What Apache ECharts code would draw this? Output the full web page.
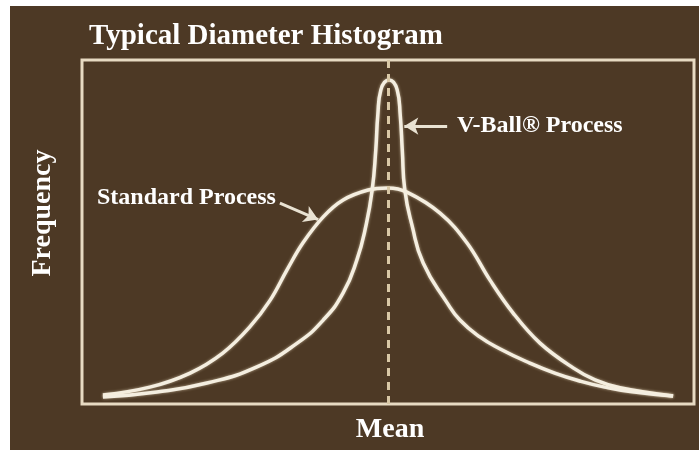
<!DOCTYPE html>
<html>
<head>
<meta charset="utf-8">
<script src="https://cdn.jsdelivr.net/npm/echarts@6/dist/echarts.min.js"></script>
<style>
html,body{margin:0;padding:0;background:#ffffff;}
#chart{width:699px;height:450px;}
</style>
</head>
<body>
<div id="chart"></div>
<script>
// x: offset from the mean (arbitrary units), y: relative frequency (0-100)
const standardX = [-5.59,-4.67,-3.88,-3.24,-2.71,-2.31,-1.98,-1.67,-1.27,-0.88,-0.39,0,0.37,1.02,1.55,2.00,2.45,2.98,3.63,4.06,4.55,5.59];
const standardY = [2.6,4.9,9.0,14.8,22.4,30.2,39.0,46.8,54.4,59.3,62.2,62.8,61.6,55.5,46.8,36.0,26.5,17.7,10.5,7.0,4.7,2.3];
const vballX = [-5.59,-4.53,-3.55,-2.57,-1.78,-1.27,-0.88,-0.61,-0.43,-0.31,-0.24,-0.20,-0.14,0.02,0.18,0.24,0.28,0.33,0.47,0.69,1.16,1.41,1.80,2.20,2.78,3.27,3.76,4.25,4.75,5.59];
const vballY = [2.0,3.5,6.1,10.8,17.7,24.4,32.3,41.9,52.0,62.2,73.8,84.0,91.3,94.2,91.3,84.0,73.8,62.2,52.0,41.0,29.4,24.4,19.5,16.0,11.9,9.0,6.7,4.9,3.6,2.3];
const meanValue = 0;
const labels = {
  title: 'Typical Diameter Histogram',
  xName: 'Mean',
  yName: 'Frequency',
  vball: 'V-Ball® Process',
  standard: 'Standard Process'
};
// annotation arrows [fromX, fromY, toX, toY] in data units
const vballArrow = [1.16, 80.8, 0.32, 80.8];
const standardArrow = [-2.12, 58.4, -1.37, 53.6];

const cream = '#f4eee0';
const boxColor = '#e7dac2';
const font = '"Liberation Serif", "Times New Roman", serif';

const chart = echarts.init(document.getElementById('chart'));
chart.setOption({
  backgroundColor: 'transparent',
  animation: false,
  graphic: [
    {type:'rect', z:-10, silent:true, shape:{x:10,y:6,width:689,height:444}, style:{fill:'#4d3925'}},
    {type:'text', x:89, y:37, style:{text:labels.title, font:'bold 29px ' + font, fill:'#ffffff', textVerticalAlign:'middle'}},
    {type:'text', x:457, y:126, style:{text:labels.vball, font:'bold 24px ' + font, fill:'#ffffff', textVerticalAlign:'middle'}},
    {type:'text', x:97, y:198, style:{text:labels.standard, font:'bold 24px ' + font, fill:'#ffffff', textVerticalAlign:'middle'}},
    {type:'text', x:390, y:430, style:{text:labels.xName, font:'bold 28px ' + font, fill:'#ffffff', textAlign:'center', textVerticalAlign:'middle'}},
    {type:'text', x:43, y:213, rotation:Math.PI/2, style:{text:labels.yName, font:'bold 28px ' + font, fill:'#ffffff', textAlign:'center', textVerticalAlign:'middle'}}
  ],
  grid: {left:82, right:5, top:60, bottom:46, show:true, borderColor:boxColor, borderWidth:3, backgroundColor:'transparent'},
  xAxis: {type:'value', min:-6, max:6, show:false},
  yAxis: {type:'value', min:0, max:100, show:false},
  series: [
    {
      type:'line', name:labels.standard,
      data: standardX.map((x,i)=>[x, standardY[i]]),
      smooth:0.4, showSymbol:false,
      lineStyle:{color:cream, width:3.5, shadowBlur:3, shadowColor:'rgba(255,240,210,0.6)'},
      markLine:{
        silent:true, symbol:'none', animation:false,
        label:{show:false},
        lineStyle:{color:'#d9c8a6', width:3, type:[8,6]},
        data:[{xAxis:meanValue}]
      },
      z:3
    },
    {
      type:'line', name:labels.vball,
      data: vballX.map((x,i)=>[x, vballY[i]]),
      smooth:0.5, showSymbol:false,
      lineStyle:{color:cream, width:3.5, shadowBlur:3, shadowColor:'rgba(255,240,210,0.6)'},
      markLine:{
        silent:true, symbol:['none','arrow'], symbolSize:[13,14], animation:false,
        label:{show:false},
        lineStyle:{color:'#e9e2d2', width:3, type:'solid'},
        data:[
          [{coord:[vballArrow[0], vballArrow[1]]},{coord:[vballArrow[2], vballArrow[3]]}],
          [{coord:[standardArrow[0], standardArrow[1]], lineStyle:{curveness:-0.25}},{coord:[standardArrow[2], standardArrow[3]]}]
        ]
      },
      z:3
    }
  ]
});
</script>
</body>
</html>
